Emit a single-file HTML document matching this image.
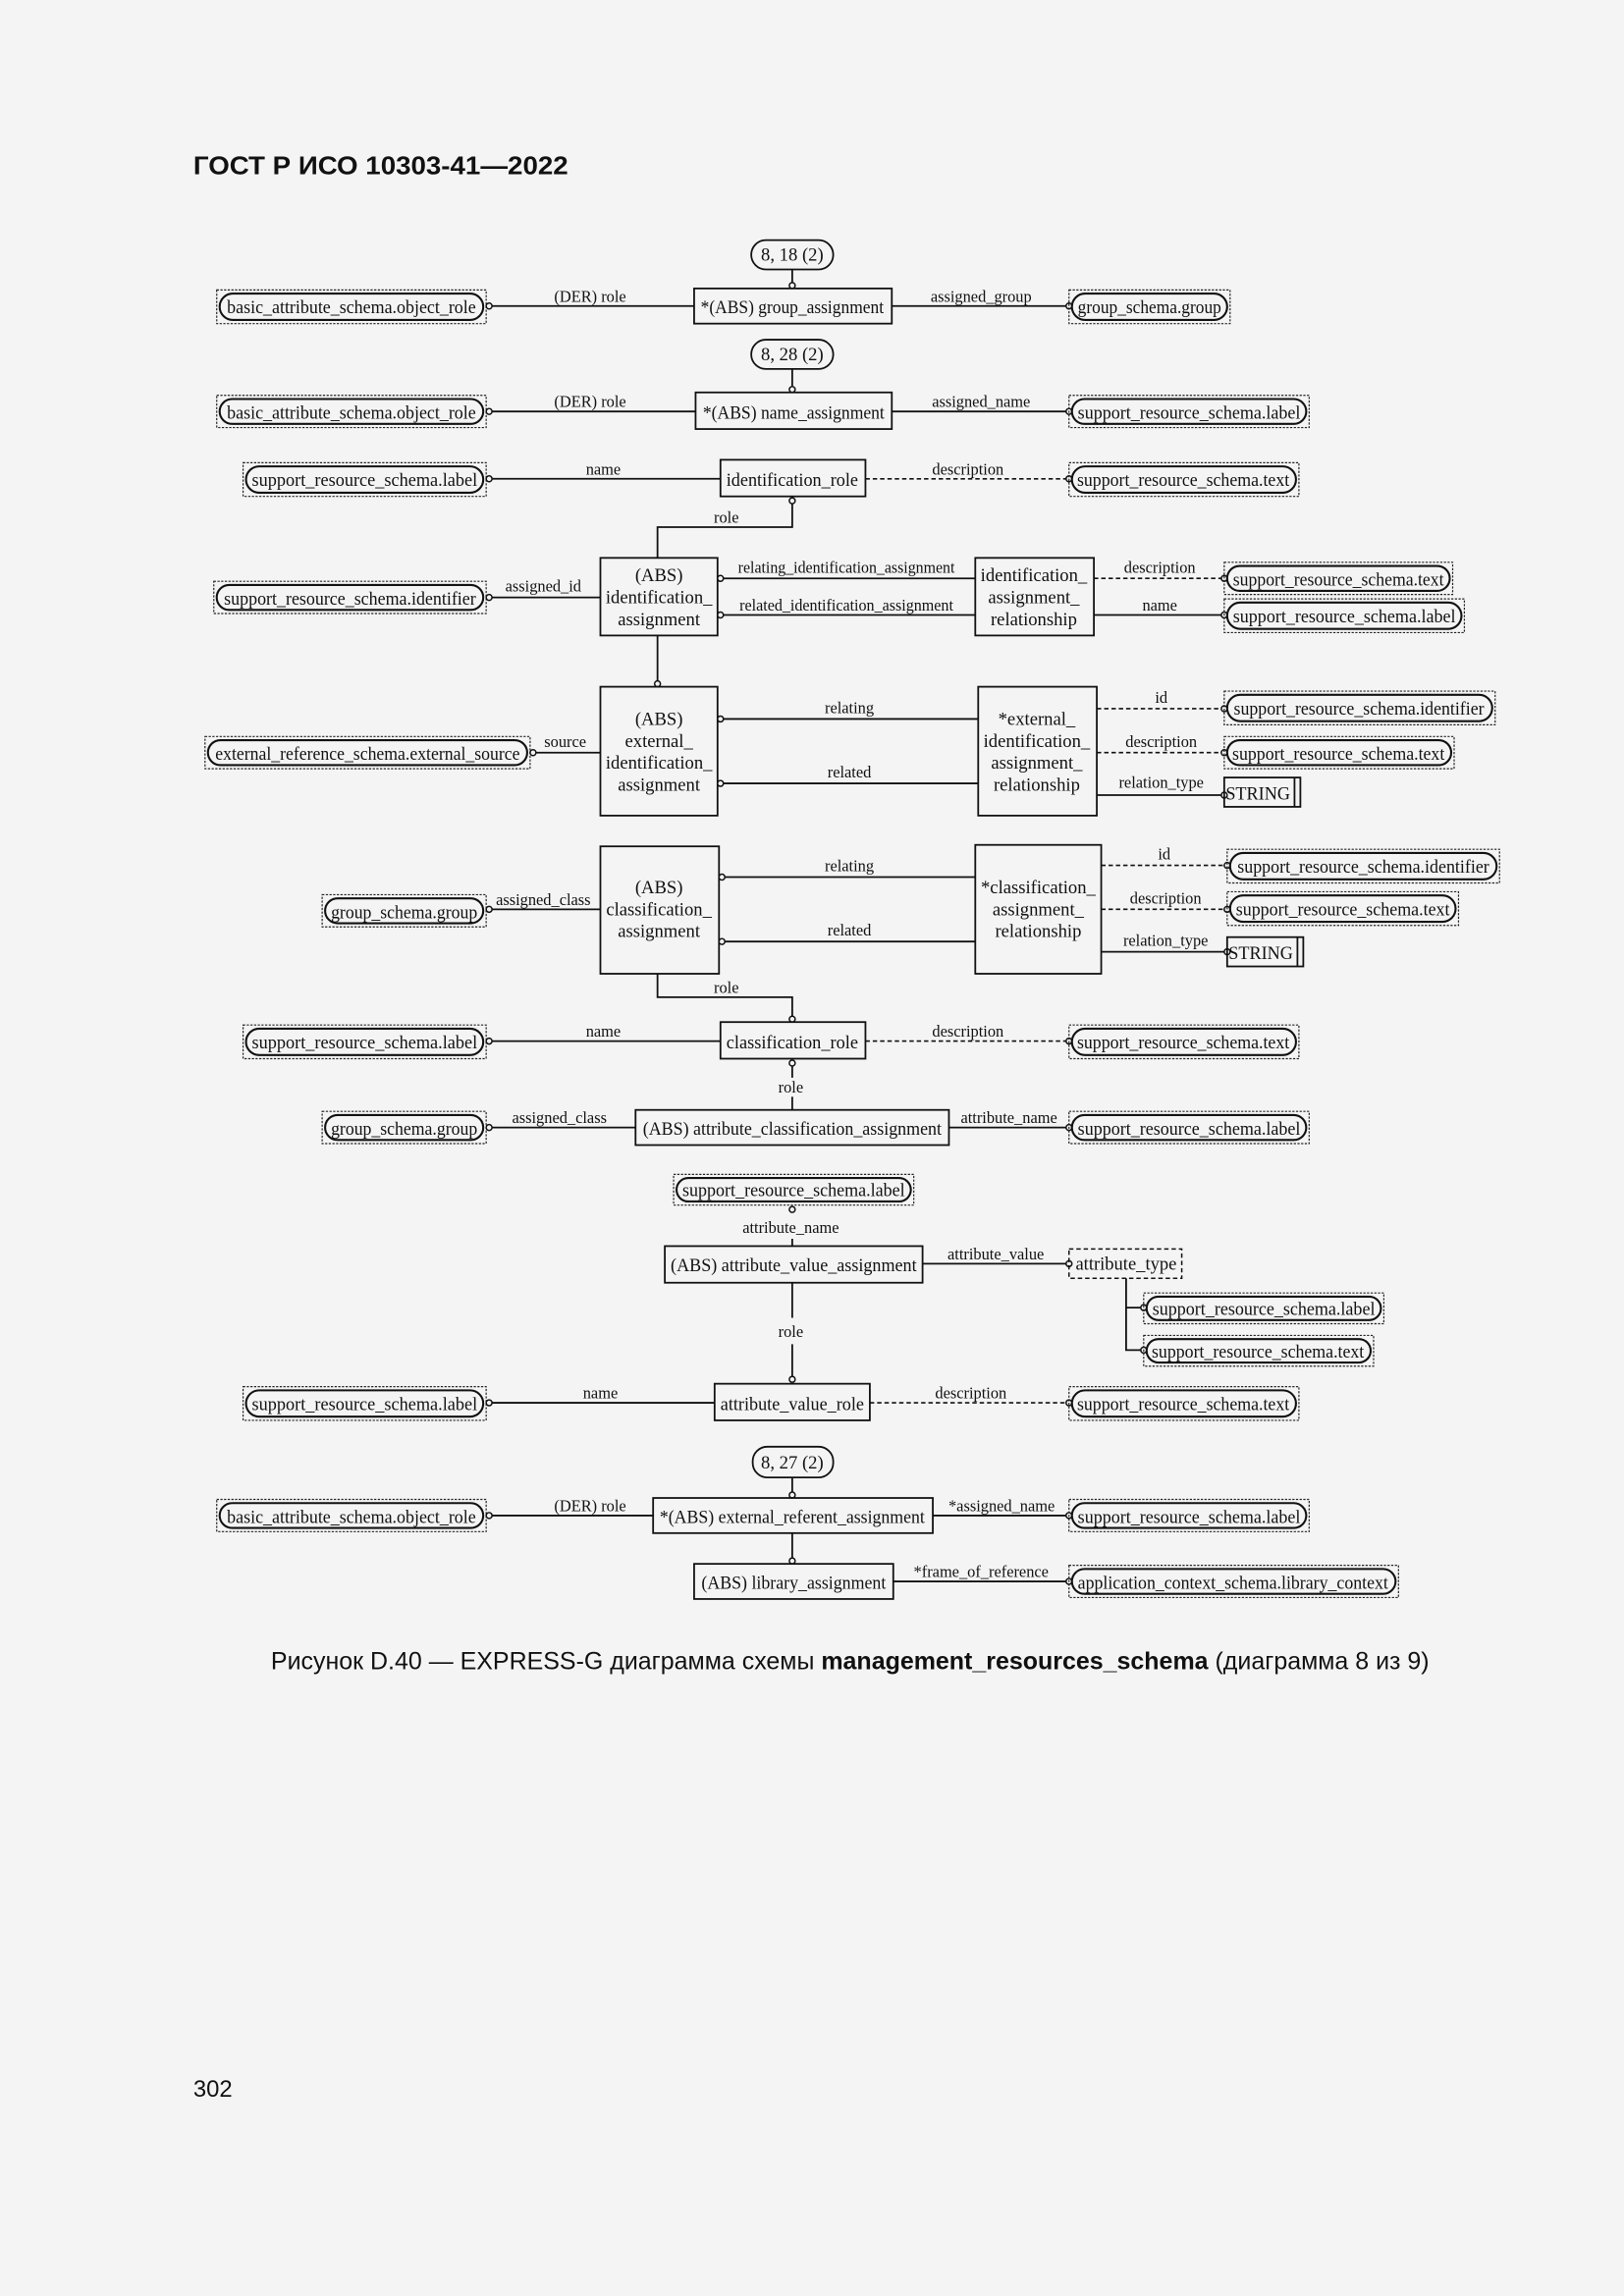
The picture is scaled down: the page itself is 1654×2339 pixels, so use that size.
<!DOCTYPE html>
<html><head><meta charset="utf-8"><style>
html,body{margin:0;padding:0;background:#f4f4f4}
svg{display:block}
text{font-family:"Liberation Serif",serif;fill:#111}
.e{font-size:12.5px}
.l{font-size:11px}
.o{fill:none;stroke:#222;stroke-width:.8;stroke-dasharray:1.5 1}
.i{fill:none;stroke:#111;stroke-width:1.4}
.b{fill:none;stroke:#111;stroke-width:1.2}
.ln{stroke:#111;stroke-width:1.2;fill:none}
.dl{stroke:#111;stroke-width:1.1;fill:none;stroke-dasharray:3 2}
.c{fill:#f4f4f4;stroke:#111;stroke-width:1}
</style></head><body>
<svg width="1654" height="2339" viewBox="0 0 1109 1568" preserveAspectRatio="none" xmlns="http://www.w3.org/2000/svg">
<rect width="1109" height="1568" fill="#f4f4f4"/>
<text x="132" y="119" style="font-family:'Liberation Sans',sans-serif;font-weight:bold;font-size:17.5px" textLength="256" lengthAdjust="spacingAndGlyphs">ГОСТ Р ИСО 10303-41—2022</text>
<text x="132" y="1432" style="font-family:'Liberation Sans',sans-serif;font-size:16px">302</text>
<text x="185" y="1140" style="font-family:'Liberation Sans',sans-serif;font-size:16.5px" textLength="791" lengthAdjust="spacingAndGlyphs">Рисунок D.40 — EXPRESS-G диаграмма схемы <tspan font-weight="bold">management_resources_schema</tspan> (диаграмма 8 из 9)</text>

<!-- Row 1 -->
<rect x="513" y="164" width="56" height="20" rx="10" class="b"/><text x="541" y="178" text-anchor="middle" class="e">8, 18 (2)</text>
<line x1="541" y1="184" x2="541" y2="197" class="ln"/><circle cx="541" cy="195" r="2" class="c"/>
<rect x="148" y="198" width="184" height="23" class="o"/><rect x="150" y="200.5" width="180" height="18" rx="9" class="i"/>
<text x="240" y="214" text-anchor="middle" class="e" textLength="170" lengthAdjust="spacingAndGlyphs">basic_attribute_schema.object_role</text>
<line x1="334" y1="209" x2="474" y2="209" class="ln"/><circle cx="334" cy="209" r="2" class="c"/>
<text x="403" y="206" text-anchor="middle" class="l">(DER) role</text>
<rect x="474" y="197" width="135" height="24" class="b"/><text x="541" y="214" text-anchor="middle" class="e" textLength="125" lengthAdjust="spacingAndGlyphs">*(ABS) group_assignment</text>
<line x1="609" y1="209" x2="730" y2="209" class="ln"/><circle cx="730" cy="209" r="2" class="c"/>
<text x="670" y="206" text-anchor="middle" class="l">assigned_group</text>
<rect x="730" y="198" width="110" height="23" class="o"/><rect x="732" y="200.5" width="106" height="18" rx="9" class="i"/>
<text x="785" y="214" text-anchor="middle" class="e" textLength="98" lengthAdjust="spacingAndGlyphs">group_schema.group</text>

<!-- Row 2 -->
<rect x="513" y="232" width="56" height="20" rx="10" class="b"/><text x="541" y="246" text-anchor="middle" class="e">8, 28 (2)</text>
<line x1="541" y1="252" x2="541" y2="268" class="ln"/><circle cx="541" cy="266" r="2" class="c"/>
<rect x="148" y="270" width="184" height="22" class="o"/><rect x="150" y="272.5" width="180" height="17" rx="8.5" class="i"/>
<text x="240" y="286" text-anchor="middle" class="e" textLength="170" lengthAdjust="spacingAndGlyphs">basic_attribute_schema.object_role</text>
<line x1="334" y1="281" x2="475" y2="281" class="ln"/><circle cx="334" cy="281" r="2" class="c"/>
<text x="403" y="278" text-anchor="middle" class="l">(DER) role</text>
<rect x="475" y="268" width="134" height="25" class="b"/><text x="542" y="286" text-anchor="middle" class="e" textLength="124" lengthAdjust="spacingAndGlyphs">*(ABS) name_assignment</text>
<line x1="609" y1="281" x2="730" y2="281" class="ln"/><circle cx="730" cy="281" r="2" class="c"/>
<text x="670" y="278" text-anchor="middle" class="l">assigned_name</text>
<rect x="730" y="270" width="164" height="22" class="o"/><rect x="732" y="272.5" width="160" height="17" rx="8.5" class="i"/>
<text x="812" y="286" text-anchor="middle" class="e" textLength="152" lengthAdjust="spacingAndGlyphs">support_resource_schema.label</text>

<!-- Row 3 -->
<rect x="166" y="316" width="166" height="23" class="o"/><rect x="168" y="318.5" width="162" height="18" rx="9" class="i"/>
<text x="249" y="332" text-anchor="middle" class="e" textLength="154" lengthAdjust="spacingAndGlyphs">support_resource_schema.label</text>
<line x1="334" y1="327" x2="492" y2="327" class="ln"/><circle cx="334" cy="327" r="2" class="c"/>
<text x="412" y="324" text-anchor="middle" class="l">name</text>
<rect x="492" y="314" width="99" height="25" class="b"/><text x="541" y="332" text-anchor="middle" class="e" textLength="90" lengthAdjust="spacingAndGlyphs">identification_role</text>
<line x1="591" y1="327" x2="730" y2="327" class="dl"/><circle cx="730" cy="327" r="2" class="c"/>
<text x="661" y="324" text-anchor="middle" class="l">description</text>
<rect x="730" y="316" width="157" height="23" class="o"/><rect x="732" y="318.5" width="153" height="18" rx="9" class="i"/>
<text x="808" y="332" text-anchor="middle" class="e" textLength="145" lengthAdjust="spacingAndGlyphs">support_resource_schema.text</text>
<polyline points="541,343 541,360 449,360 449,381" class="ln"/><circle cx="541" cy="342" r="2" class="c"/>
<text x="496" y="357" text-anchor="middle" class="l">role</text>

<!-- Row 4 -->
<rect x="146" y="397" width="186" height="22" class="o"/><rect x="148" y="399.5" width="182" height="17" rx="8.5" class="i"/>
<text x="239" y="413" text-anchor="middle" class="e" textLength="172" lengthAdjust="spacingAndGlyphs">support_resource_schema.identifier</text>
<line x1="334" y1="408" x2="410" y2="408" class="ln"/><circle cx="334" cy="408" r="2" class="c"/>
<text x="371" y="404" text-anchor="middle" class="l">assigned_id</text>
<rect x="410" y="381" width="80" height="53" class="b"/>
<text x="450" y="397" text-anchor="middle" class="e">(ABS)</text>
<text x="450" y="412" text-anchor="middle" class="e">identification_</text>
<text x="450" y="427" text-anchor="middle" class="e">assignment</text>
<line x1="492" y1="395" x2="666" y2="395" class="ln"/><circle cx="492" cy="395" r="2" class="c"/>
<text x="578" y="391" text-anchor="middle" class="l" textLength="148" lengthAdjust="spacingAndGlyphs">relating_identification_assignment</text>
<line x1="492" y1="420" x2="666" y2="420" class="ln"/><circle cx="492" cy="420" r="2" class="c"/>
<text x="578" y="417" text-anchor="middle" class="l" textLength="146" lengthAdjust="spacingAndGlyphs">related_identification_assignment</text>
<rect x="666" y="381" width="81" height="53" class="b"/>
<text x="706" y="397" text-anchor="middle" class="e">identification_</text>
<text x="706" y="412" text-anchor="middle" class="e">assignment_</text>
<text x="706" y="427" text-anchor="middle" class="e">relationship</text>
<line x1="747" y1="395" x2="836" y2="395" class="dl"/><circle cx="836" cy="395" r="2" class="c"/>
<text x="792" y="391" text-anchor="middle" class="l">description</text>
<rect x="836" y="384" width="156" height="22" class="o"/><rect x="838" y="386.5" width="152" height="17" rx="8.5" class="i"/>
<text x="914" y="400" text-anchor="middle" class="e" textLength="144" lengthAdjust="spacingAndGlyphs">support_resource_schema.text</text>
<line x1="747" y1="420" x2="836" y2="420" class="ln"/><circle cx="836" cy="420" r="2" class="c"/>
<text x="792" y="417" text-anchor="middle" class="l">name</text>
<rect x="836" y="409" width="164" height="23" class="o"/><rect x="838" y="411.5" width="160" height="18" rx="9" class="i"/>
<text x="918" y="425" text-anchor="middle" class="e" textLength="152" lengthAdjust="spacingAndGlyphs">support_resource_schema.label</text>
<line x1="449" y1="434" x2="449" y2="469" class="ln"/><circle cx="449" cy="467" r="2" class="c"/>

<!-- Row 5 -->
<rect x="140" y="503" width="222" height="22" class="o"/><rect x="142" y="505.5" width="218" height="17" rx="8.5" class="i"/>
<text x="251" y="519" text-anchor="middle" class="e" textLength="208" lengthAdjust="spacingAndGlyphs">external_reference_schema.external_source</text>
<line x1="364" y1="514" x2="410" y2="514" class="ln"/><circle cx="364" cy="514" r="2" class="c"/>
<text x="386" y="510" text-anchor="middle" class="l">source</text>
<rect x="410" y="469" width="80" height="88" class="b"/>
<text x="450" y="495" text-anchor="middle" class="e">(ABS)</text>
<text x="450" y="510" text-anchor="middle" class="e">external_</text>
<text x="450" y="525" text-anchor="middle" class="e">identification_</text>
<text x="450" y="540" text-anchor="middle" class="e">assignment</text>
<line x1="492" y1="491" x2="668" y2="491" class="ln"/><circle cx="492" cy="491" r="2" class="c"/>
<text x="580" y="487" text-anchor="middle" class="l">relating</text>
<line x1="492" y1="535" x2="668" y2="535" class="ln"/><circle cx="492" cy="535" r="2" class="c"/>
<text x="580" y="531" text-anchor="middle" class="l">related</text>
<rect x="668" y="469" width="81" height="88" class="b"/>
<text x="708" y="495" text-anchor="middle" class="e">*external_</text>
<text x="708" y="510" text-anchor="middle" class="e">identification_</text>
<text x="708" y="525" text-anchor="middle" class="e">assignment_</text>
<text x="708" y="540" text-anchor="middle" class="e">relationship</text>
<line x1="749" y1="484" x2="836" y2="484" class="dl"/><circle cx="836" cy="484" r="2" class="c"/>
<text x="793" y="480" text-anchor="middle" class="l">id</text>
<rect x="836" y="472" width="185" height="23" class="o"/><rect x="838" y="474.5" width="181" height="18" rx="9" class="i"/>
<text x="928" y="488" text-anchor="middle" class="e" textLength="171" lengthAdjust="spacingAndGlyphs">support_resource_schema.identifier</text>
<line x1="749" y1="514" x2="836" y2="514" class="dl"/><circle cx="836" cy="514" r="2" class="c"/>
<text x="793" y="510" text-anchor="middle" class="l">description</text>
<rect x="836" y="503" width="157" height="22" class="o"/><rect x="838" y="505.5" width="153" height="17" rx="8.5" class="i"/>
<text x="914" y="519" text-anchor="middle" class="e" textLength="145" lengthAdjust="spacingAndGlyphs">support_resource_schema.text</text>
<line x1="749" y1="543" x2="836" y2="543" class="ln"/><circle cx="836" cy="543" r="2" class="c"/>
<text x="793" y="538" text-anchor="middle" class="l">relation_type</text>
<rect x="836" y="531" width="52" height="20" class="b"/><line x1="884" y1="531" x2="884" y2="551" class="ln"/>
<text x="859" y="546" text-anchor="middle" class="e" textLength="44" lengthAdjust="spacingAndGlyphs">STRING</text>

<!-- Row 6 -->
<rect x="220" y="611" width="112" height="22" class="o"/><rect x="222" y="613.5" width="108" height="17" rx="8.5" class="i"/>
<text x="276" y="627" text-anchor="middle" class="e" textLength="100" lengthAdjust="spacingAndGlyphs">group_schema.group</text>
<line x1="334" y1="621" x2="410" y2="621" class="ln"/><circle cx="334" cy="621" r="2" class="c"/>
<text x="371" y="618" text-anchor="middle" class="l">assigned_class</text>
<rect x="410" y="578" width="81" height="87" class="b"/>
<text x="450" y="610" text-anchor="middle" class="e">(ABS)</text>
<text x="450" y="625" text-anchor="middle" class="e">classification_</text>
<text x="450" y="640" text-anchor="middle" class="e">assignment</text>
<line x1="493" y1="599" x2="666" y2="599" class="ln"/><circle cx="493" cy="599" r="2" class="c"/>
<text x="580" y="595" text-anchor="middle" class="l">relating</text>
<line x1="493" y1="643" x2="666" y2="643" class="ln"/><circle cx="493" cy="643" r="2" class="c"/>
<text x="580" y="639" text-anchor="middle" class="l">related</text>
<rect x="666" y="577" width="86" height="88" class="b"/>
<text x="709" y="610" text-anchor="middle" class="e">*classification_</text>
<text x="709" y="625" text-anchor="middle" class="e">assignment_</text>
<text x="709" y="640" text-anchor="middle" class="e">relationship</text>
<line x1="752" y1="591" x2="838" y2="591" class="dl"/><circle cx="838" cy="591" r="2" class="c"/>
<text x="795" y="587" text-anchor="middle" class="l">id</text>
<rect x="838" y="580" width="186" height="23" class="o"/><rect x="840" y="582.5" width="182" height="18" rx="9" class="i"/>
<text x="931" y="596" text-anchor="middle" class="e" textLength="172" lengthAdjust="spacingAndGlyphs">support_resource_schema.identifier</text>
<line x1="752" y1="621" x2="838" y2="621" class="dl"/><circle cx="838" cy="621" r="2" class="c"/>
<text x="796" y="617" text-anchor="middle" class="l">description</text>
<rect x="838" y="609" width="158" height="23" class="o"/><rect x="840" y="611.5" width="154" height="18" rx="9" class="i"/>
<text x="917" y="625" text-anchor="middle" class="e" textLength="146" lengthAdjust="spacingAndGlyphs">support_resource_schema.text</text>
<line x1="752" y1="650" x2="838" y2="650" class="ln"/><circle cx="838" cy="650" r="2" class="c"/>
<text x="796" y="646" text-anchor="middle" class="l">relation_type</text>
<rect x="838" y="640" width="52" height="20" class="b"/><line x1="886" y1="640" x2="886" y2="660" class="ln"/>
<text x="861" y="655" text-anchor="middle" class="e" textLength="44" lengthAdjust="spacingAndGlyphs">STRING</text>
<polyline points="449,665 449,681 541,681 541,697" class="ln"/><circle cx="541" cy="696" r="2" class="c"/>
<text x="496" y="678" text-anchor="middle" class="l">role</text>

<!-- Row 7 -->
<rect x="166" y="700" width="166" height="23" class="o"/><rect x="168" y="702.5" width="162" height="18" rx="9" class="i"/>
<text x="249" y="716" text-anchor="middle" class="e" textLength="154" lengthAdjust="spacingAndGlyphs">support_resource_schema.label</text>
<line x1="334" y1="711" x2="492" y2="711" class="ln"/><circle cx="334" cy="711" r="2" class="c"/>
<text x="412" y="708" text-anchor="middle" class="l">name</text>
<rect x="492" y="698" width="99" height="25" class="b"/><text x="541" y="716" text-anchor="middle" class="e" textLength="90" lengthAdjust="spacingAndGlyphs">classification_role</text>
<line x1="591" y1="711" x2="730" y2="711" class="dl"/><circle cx="730" cy="711" r="2" class="c"/>
<text x="661" y="708" text-anchor="middle" class="l">description</text>
<rect x="730" y="700" width="157" height="23" class="o"/><rect x="732" y="702.5" width="153" height="18" rx="9" class="i"/>
<text x="808" y="716" text-anchor="middle" class="e" textLength="145" lengthAdjust="spacingAndGlyphs">support_resource_schema.text</text>
<line x1="541" y1="728" x2="541" y2="736" class="ln"/><line x1="541" y1="749" x2="541" y2="758" class="ln"/><circle cx="541" cy="726" r="2" class="c"/>
<text x="540" y="746" text-anchor="middle" class="l">role</text>

<!-- Row 8 -->
<rect x="220" y="759" width="112" height="22" class="o"/><rect x="222" y="761.5" width="108" height="17" rx="8.5" class="i"/>
<text x="276" y="775" text-anchor="middle" class="e" textLength="100" lengthAdjust="spacingAndGlyphs">group_schema.group</text>
<line x1="334" y1="770" x2="434" y2="770" class="ln"/><circle cx="334" cy="770" r="2" class="c"/>
<text x="382" y="767" text-anchor="middle" class="l">assigned_class</text>
<rect x="434" y="758" width="214" height="24" class="b"/><text x="541" y="775" text-anchor="middle" class="e" textLength="204" lengthAdjust="spacingAndGlyphs">(ABS) attribute_classification_assignment</text>
<line x1="648" y1="770" x2="730" y2="770" class="ln"/><circle cx="730" cy="770" r="2" class="c"/>
<text x="689" y="767" text-anchor="middle" class="l">attribute_name</text>
<rect x="730" y="759" width="164" height="22" class="o"/><rect x="732" y="761.5" width="160" height="17" rx="8.5" class="i"/>
<text x="812" y="775" text-anchor="middle" class="e" textLength="152" lengthAdjust="spacingAndGlyphs">support_resource_schema.label</text>

<!-- Row 9 -->
<rect x="460" y="802" width="164" height="21" class="o"/><rect x="462" y="804.5" width="160" height="16" rx="8" class="i"/>
<text x="542" y="817" text-anchor="middle" class="e" textLength="152" lengthAdjust="spacingAndGlyphs">support_resource_schema.label</text>
<circle cx="541" cy="826" r="2" class="c"/>
<text x="540" y="842" text-anchor="middle" class="l">attribute_name</text>
<line x1="541" y1="846" x2="541" y2="851" class="ln"/>
<rect x="454" y="851" width="176" height="25" class="b"/><text x="542" y="868" text-anchor="middle" class="e" textLength="168" lengthAdjust="spacingAndGlyphs">(ABS) attribute_value_assignment</text>
<line x1="630" y1="863" x2="730" y2="863" class="ln"/><circle cx="730" cy="863" r="2" class="c"/>
<text x="680" y="860" text-anchor="middle" class="l">attribute_value</text>
<rect x="730" y="853" width="77" height="20" fill="none" stroke="#111" stroke-width="1" stroke-dasharray="3 2"/>
<text x="769" y="867" text-anchor="middle" class="e" textLength="69" lengthAdjust="spacingAndGlyphs">attribute_type</text>
<polyline points="769,873 769,922 781,922" class="ln"/><line x1="769" y1="893" x2="781" y2="893" class="ln"/>
<circle cx="781" cy="893" r="2" class="c"/><circle cx="781" cy="922" r="2" class="c"/>
<rect x="781" y="883" width="164" height="21" class="o"/><rect x="783" y="885.5" width="160" height="16" rx="8" class="i"/>
<text x="863" y="898" text-anchor="middle" class="e" textLength="152" lengthAdjust="spacingAndGlyphs">support_resource_schema.label</text>
<rect x="781" y="912" width="157" height="21" class="o"/><rect x="783" y="914.5" width="153" height="16" rx="8" class="i"/>
<text x="859" y="927" text-anchor="middle" class="e" textLength="145" lengthAdjust="spacingAndGlyphs">support_resource_schema.text</text>
<line x1="541" y1="876" x2="541" y2="900" class="ln"/><line x1="541" y1="918" x2="541" y2="943" class="ln"/><circle cx="541" cy="942" r="2" class="c"/>
<text x="540" y="913" text-anchor="middle" class="l">role</text>

<!-- Row 10 -->
<rect x="166" y="947" width="166" height="23" class="o"/><rect x="168" y="949.5" width="162" height="18" rx="9" class="i"/>
<text x="249" y="963" text-anchor="middle" class="e" textLength="154" lengthAdjust="spacingAndGlyphs">support_resource_schema.label</text>
<line x1="334" y1="958" x2="488" y2="958" class="ln"/><circle cx="334" cy="958" r="2" class="c"/>
<text x="410" y="955" text-anchor="middle" class="l">name</text>
<rect x="488" y="945" width="106" height="25" class="b"/><text x="541" y="963" text-anchor="middle" class="e" textLength="98" lengthAdjust="spacingAndGlyphs">attribute_value_role</text>
<line x1="594" y1="958" x2="730" y2="958" class="dl"/><circle cx="730" cy="958" r="2" class="c"/>
<text x="663" y="955" text-anchor="middle" class="l">description</text>
<rect x="730" y="947" width="157" height="23" class="o"/><rect x="732" y="949.5" width="153" height="18" rx="9" class="i"/>
<text x="808" y="963" text-anchor="middle" class="e" textLength="145" lengthAdjust="spacingAndGlyphs">support_resource_schema.text</text>

<!-- Row 11 -->
<rect x="514" y="988" width="55" height="21" rx="10" class="b"/><text x="541" y="1003" text-anchor="middle" class="e">8, 27 (2)</text>
<line x1="541" y1="1009" x2="541" y2="1023" class="ln"/><circle cx="541" cy="1021" r="2" class="c"/>
<rect x="148" y="1024" width="184" height="22" class="o"/><rect x="150" y="1026.5" width="180" height="17" rx="8.5" class="i"/>
<text x="240" y="1040" text-anchor="middle" class="e" textLength="170" lengthAdjust="spacingAndGlyphs">basic_attribute_schema.object_role</text>
<line x1="334" y1="1035" x2="446" y2="1035" class="ln"/><circle cx="334" cy="1035" r="2" class="c"/>
<text x="403" y="1032" text-anchor="middle" class="l">(DER) role</text>
<rect x="446" y="1023" width="191" height="24" class="b"/><text x="541" y="1040" text-anchor="middle" class="e" textLength="181" lengthAdjust="spacingAndGlyphs">*(ABS) external_referent_assignment</text>
<line x1="637" y1="1035" x2="730" y2="1035" class="ln"/><circle cx="730" cy="1035" r="2" class="c"/>
<text x="684" y="1032" text-anchor="middle" class="l">*assigned_name</text>
<rect x="730" y="1024" width="164" height="22" class="o"/><rect x="732" y="1026.5" width="160" height="17" rx="8.5" class="i"/>
<text x="812" y="1040" text-anchor="middle" class="e" textLength="152" lengthAdjust="spacingAndGlyphs">support_resource_schema.label</text>
<line x1="541" y1="1047" x2="541" y2="1068" class="ln"/><circle cx="541" cy="1066" r="2" class="c"/>
<rect x="474" y="1068" width="136" height="24" class="b"/><text x="542" y="1085" text-anchor="middle" class="e" textLength="126" lengthAdjust="spacingAndGlyphs">(ABS) library_assignment</text>
<line x1="610" y1="1080" x2="730" y2="1080" class="ln"/><circle cx="730" cy="1080" r="2" class="c"/>
<text x="670" y="1077" text-anchor="middle" class="l">*frame_of_reference</text>
<rect x="730" y="1069" width="225" height="22" class="o"/><rect x="732" y="1071.5" width="221" height="17" rx="8.5" class="i"/>
<text x="842" y="1085" text-anchor="middle" class="e" textLength="212" lengthAdjust="spacingAndGlyphs">application_context_schema.library_context</text>
</svg>
</body></html>
